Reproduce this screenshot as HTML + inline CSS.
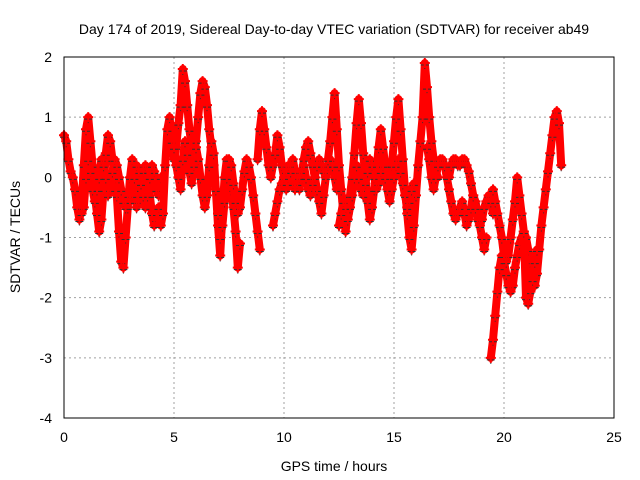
<!DOCTYPE html>
<html><head><meta charset="utf-8"><style>
body{margin:0;background:#fff}
svg{display:block;font-family:"Liberation Sans",sans-serif}
</style></head><body>
<svg id="chart" width="640" height="480">
<rect width="640" height="480" fill="#fff"/>
<g id="grid"></g>
<g id="marks"></g>
<rect x="64" y="57" width="550" height="361" fill="none" stroke="#000" stroke-width="1"/>
<g id="ticks"></g>
<text x="334" y="34" text-anchor="middle" font-size="14">Day 174 of 2019, Sidereal Day-to-day VTEC variation (SDTVAR) for receiver ab49</text>
<text x="334" y="471" text-anchor="middle" font-size="14">GPS time / hours</text>
<text x="20" y="237" text-anchor="middle" font-size="14" transform="rotate(-90 20 237)">SDTVAR / TECUs</text>
</svg>
<script>
const xTicks=[0,5,10,15,20,25];
const yTicks=[2,1,0,-1,-2,-3,-4];
const step=0.1;
const trackStarts=[0,0.8,4.3,5.0,8.8,9.5,12.0,12.5,16.5,17.5,19.4,19.5];
const track0=[0.7,0.6,0.3,0.1,0.0,-0.2,-0.5,-0.7,-0.5,0.2,0.8,1.0,0.6,0.2,-0.3,-0.6,-0.9,-0.7,-0.2,0.4,0.7,0.6,0.3,0.0,-0.3,-0.9,-1.4,-1.5,-1.0,-0.5,0.0,0.3,0.0,-0.5,-0.4,-0.2,0.1,0.2,0.1,-0.3,-0.6,-0.8,-0.7,-0.5];
const track1=[-0.6,-0.5,0.0,0.3,0.1,-0.2,-0.4,-0.2,0.0,0.3,0.2,0.0,-0.3,-0.2,0.1,0.3,0.2,0.0,-0.2,-0.4,-0.5,-0.3,-0.4,-0.3,0.0,0.2,0.1,-0.1,-0.3,-0.5,-0.3,0.0,0.2,0.1,-0.2,-0.3,0.0];
const track2=[-0.5,-0.8,-0.6,0.2,0.8,1.0,0.6,0.3,0.5,0.9,1.2,1.8,1.6,1.2,0.8,0.5,0.3,0.6,1.0,1.4,1.6,1.5,1.2,0.8,0.5,0.2,-0.2,-0.8,-1.3,-0.6,0.0,0.3,0.2,-0.2,-0.5,-0.9,-1.5,-1.1];
const track3=[0.5,0.2,0.0,-0.2,0.3,0.6,0.4,0.1,-0.1,0.2,0.5,0.3,0.0,-0.3,-0.5,-0.3,0.2,0.6,0.4,-0.2,-0.6,-1.0,-0.8,-0.4,0.0,0.3,0.2,-0.1,-0.4,-0.6,-0.5,-0.2,0.1,0.3,0.2,0.0,-0.3,-0.6,-0.9,-1.2];
const track4=[0.3,0.8,1.1,0.8,0.5,0.2,0.0,0.2,0.4,0.7,0.5,0.2,0.0,-0.2,0.0,0.2,0.3,0.1,-0.1,-0.2,0.0,0.3,0.5,0.6,0.4,0.2,0.0,-0.2,-0.4,-0.6,-0.3,0.0,0.2,0.3,0.2,0.0,-0.2];
const track5=[-0.8,-0.6,-0.4,-0.2,-0.1,0.0,0.1,0.2,0.1,-0.1,-0.2,-0.1,0.0,0.1,0.2,0.0,-0.2,-0.3,-0.1,0.0,0.2,0.3,0.2,0.1,0.0];
const track6=[0.3,0.6,1.0,1.4,0.8,0.2,-0.2,-0.6,-0.9,-0.6,-0.3,0.0,0.4,0.9,1.3,0.9,0.4,0.0,-0.4,-0.7,-0.5,-0.2,0.1,0.5,0.8,0.5,0.2,0.0,-0.1,0.2,0.6,1.0,1.3,0.8,0.3,-0.2,-0.6,-1.0,-1.2,-0.8,-0.3,0.2,0.6,1.0,1.9,1.5,1.0,0.6,0.3,0.1,0.0];
const track7=[-0.8,-0.6,-0.4,-0.5,-0.7,-0.5,-0.3,0.0,0.2,0.0,-0.2,-0.3,-0.1,0.1,0.3,0.2,0.0,-0.2,-0.1,0.1,0.2,0.0,-0.2,-0.4,-0.2,0.0,0.2,0.3,0.1,-0.1,-0.3,-0.5,-0.4,-0.2,-0.1];
const track8=[0.5,0.3,0.0,-0.2,0.0,0.2,0.3,0.3,0.2,0.0,-0.2,-0.4,-0.6,-0.7,-0.6,-0.5,-0.4,-0.6,-0.8,-0.7,-0.5,-0.3,-0.4,-0.6,-0.8,-1.0,-1.2,-1.0];
const track9=[0.0,0.2,0.3,0.3,0.2,0.2,0.3,0.3,0.2,0.1,-0.1,-0.3,-0.5,-0.7,-0.8,-0.7,-0.5,-0.4,-0.3,-0.4,-0.6];
const track10=[-3.0,-2.7,-2.3,-1.9,-1.5,-1.3,-1.4,-1.6,-1.8,-1.9,-1.8,-1.5,-1.3,-1.1,-1.0,-0.9,-1.0,-1.2,-1.4,-1.6,-1.8,-1.6,-1.2,-0.8,-0.5,-0.2,0.1,0.4,0.7,1.0,1.1,0.9,0.2];
const track11=[-0.2,-0.4,-0.6,-0.8,-1.0,-1.3,-1.4,-1.3,-1.0,-0.7,-0.4,0.0,-0.3,-0.6,-0.9,-2.0,-2.1,-1.9,-1.7,-1.4,-1.2];
const tracks=[track0,track1,track2,track3,track4,track5,track6,track7,track8,track9,track10,track11];

const NS="http://www.w3.org/2000/svg";
const X=t=>64+t*22;
const Y=v=>57+(2-v)*60.17;
const grid=document.getElementById('grid'),ticks=document.getElementById('ticks'),marks=document.getElementById('marks');
function mk(tag,attrs,parent){const e=document.createElementNS(NS,tag);for(const k in attrs)e.setAttribute(k,attrs[k]);parent.appendChild(e);return e;}
xTicks.forEach(t=>{
  if(t>0&&t<25){const g=mk('line',{x1:X(t),x2:X(t),y1:57,y2:418,stroke:'#a0a0a0','stroke-dasharray':'2,3'},grid);
  
  }
  const l=mk('text',{x:X(t),y:442,'text-anchor':'middle','font-size':14},ticks);l.textContent=t;
  
  
});
yTicks.forEach(v=>{
  if(v<2&&v>-4){const g=mk('line',{x1:64,x2:614,y1:Y(v),y2:Y(v),stroke:'#a0a0a0','stroke-dasharray':'2,3'},grid);
  
  }
  const l=mk('text',{x:52,y:Y(v)+5,'text-anchor':'end','font-size':14},ticks);l.textContent=v;
  
  
});
tracks.forEach((arr,i)=>{
  const s=trackStarts[i];
  const pts=arr.map((v,j)=>X(s+j*step)+','+Y(v)).join(' ');
  const pl=mk('polyline',{points:pts,fill:'none',stroke:'#ff0000','stroke-width':8,'stroke-linejoin':'round','stroke-linecap':'round'},marks);
  
  
  arr.forEach((v,j)=>{
    const x=X(s+j*step),y=Y(v);
    const b=mk('path',{d:`M${x-4},${y+2}h8M${x},${y-2}v8`,stroke:'#333','stroke-width':1},marks);
    
    
  });
  arr.forEach((v,j)=>{
    const x=X(s+j*step),y=Y(v);
    const p=mk('path',{d:`M${x-5},${y}h10M${x},${y-5}v10`,stroke:'#ff0000','stroke-width':2},marks);
    
    
  });
});
</script>
</body></html>
